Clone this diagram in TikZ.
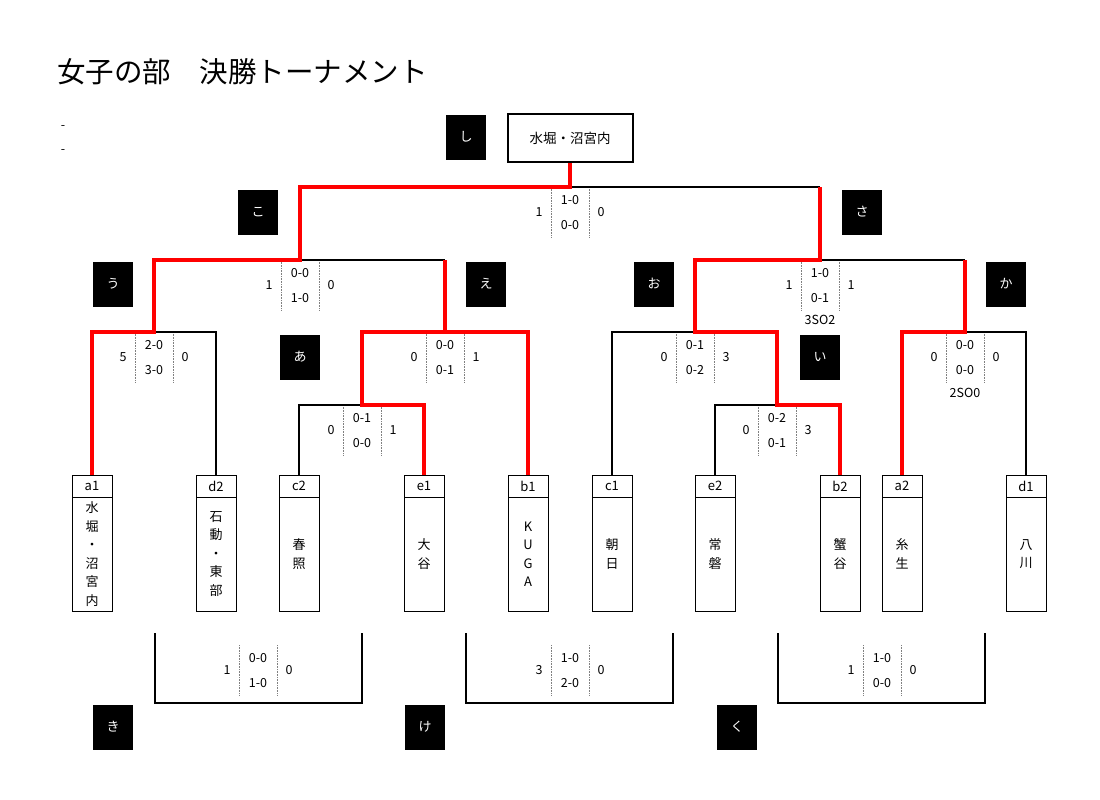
\documentclass[tikz,border=0pt]{standalone}
\usepackage{fontspec}
\setmainfont{Noto Sans CJK JP}
\begin{document}
\begin{tikzpicture}[x=1pt,y=-1pt,
  lab/.style={fill=black,text=white,minimum width=40pt,minimum height=45pt,inner sep=0,font=\fontsize{13}{13}\selectfont},
  hd/.style={draw,line width=1pt,minimum width=40pt,minimum height=22pt,inner sep=0,font=\fontsize{13}{13}\selectfont},
  bd/.style={draw,line width=1pt,minimum width=40pt,minimum height=114pt,inner sep=0},
  bt/.style={inner sep=0,align=center,font=\fontsize{13}{18.5}\selectfont},
  sc/.style={inner sep=0,font=\fontsize{12.5}{12.5}\selectfont},
  bl/.style={line width=1.1pt},
  rd/.style={red,line width=3.5pt,line join=miter},
  dt/.style={gray,densely dotted,line width=0.6pt}]
\useasboundingbox (0,0) rectangle (1100,800);
\node[anchor=west,inner sep=0,font=\fontsize{28.5}{28.5}\selectfont] (title) at (57,72) {女子の部　決勝トーナメント};
\node[sc] (d1x) at (63,128) {-};
\node[sc] (d2x) at (63,152) {-};
% champion
\node[draw,line width=2pt,minimum width=125pt,minimum height=48pt,inner sep=0,font=\fontsize{13.5}{13.5}\selectfont] (champ) at (570,138) {水堀・沼宮内};
% labels
\foreach \n/\t/\x/\y in {Ls/し/466/137,Lko/こ/258/212,Lsa/さ/862/212,Lu/う/113/284,Le/え/486/284,Lo/お/654/284,Lka/か/1006/284,La/あ/300/357,Li/い/820/357,Lki/き/113/727,Lke/け/425/727,Lku/く/737/727}
  \node[lab] (\n) at (\x,\y) {\t};
% teams
\newcommand\team[4]{\node[hd] (#1h) at (#2,486) {#3};\node[bd] (#1b) at (#2,554) {};\node[bt] (#1t) at (#2,554) {#4};}
\team{a1}{92}{a1}{水\\堀\\・\\沼\\宮\\内}
\team{d2}{216}{d2}{石\\動\\・\\東\\部}
\team{c2}{299}{c2}{春\\照}
\team{e1}{424}{e1}{大\\谷}
\team{b1}{528}{b1}{K\\U\\G\\A}
\team{c1}{612}{c1}{朝\\日}
\team{e2}{715}{e2}{常\\磐}
\team{b2}{840}{b2}{蟹\\谷}
\team{a2}{902}{a2}{糸\\生}
\team{d1}{1026}{d1}{八\\川}
% scores
\newcommand\score[7]{%
  \draw[dt] (#2-19,#3) -- (#2-19,#3+50);
  \draw[dt] (#2+19,#3) -- (#2+19,#3+50);
  \node[sc] (#1l) at (#2-31,#3+25) {#4};
  \node[sc] (#1t) at (#2,#3+13) {#5};
  \node[sc] (#1m) at (#2,#3+38) {#6};
  \node[sc] (#1r) at (#2+31,#3+25) {#7};}
\score{sf}{570}{187}{1}{1-0}{0-0}{0}
\score{sko}{300}{260}{1}{0-0}{1-0}{0}
\score{ssa}{820}{260}{1}{1-0}{0-1}{1}
\score{su}{154}{332}{5}{2-0}{3-0}{0}
\score{se}{445}{332}{0}{0-0}{0-1}{1}
\score{so}{695}{332}{0}{0-1}{0-2}{3}
\score{ska}{965}{332}{0}{0-0}{0-0}{0}
\score{sa}{362}{405}{0}{0-1}{0-0}{1}
\score{si}{777}{405}{0}{0-2}{0-1}{3}
\score{ski}{258}{645}{1}{0-0}{1-0}{0}
\score{ske}{570}{645}{3}{1-0}{2-0}{0}
\score{sku}{882}{645}{1}{1-0}{0-0}{0}
\node[sc] (so1) at (820,320) {3SO2};
\node[sc] (so2) at (965,393) {2SO0};
% black lines
\draw[bl] (d2h.north) |- (154,332);
\draw[bl] (c2h.north) |- (362,405);
\draw[bl] (300,260) -- (445,260);
\draw[bl] (570,187) -- (820,187);
\draw[bl] (c1h.north) |- (695,332);
\draw[bl] (e2h.north) |- (777,405);
\draw[bl] (820,260) -- (965,260);
\draw[bl] (965,332) -| (d1h.north);
\draw[bl] (155,633) |- (362,703) -- (362,633);
\draw[bl] (466,633) |- (673,703) -- (673,633);
\draw[bl] (778,633) |- (985,703) -- (985,633);
% red lines
\draw[rd] (a1h.north) -- (92,332) -- (154,332) -- (154,260) -- (300,260) -- (300,187) -- (570,187) -- (champ.south);
\draw[rd] (e1h.north) -- (424,405) -- (362,405) -- (362,332) -- (528,332) -- (b1h.north);
\draw[rd] (445,332) -- (445,260);
\draw[rd] (b2h.north) -- (840,405) -- (777,405) -- (777,332) -- (695,332) -- (695,260) -- (820,260) -- (820,187);
\draw[rd] (a2h.north) -- (902,332) -- (965,332) -- (965,260);
\end{tikzpicture}
\end{document}
